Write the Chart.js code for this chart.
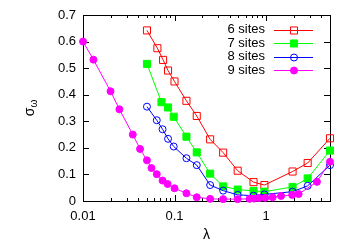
<!DOCTYPE html>
<html>
<head>
<meta charset="utf-8">
<title>sigma omega vs lambda</title>
<style>
html,body{margin:0;padding:0;background:#fff;}
#wrap{width:350px;height:245px;}
</style>
</head>
<body>
<div id="wrap"><canvas id="chart" width="350" height="245"></canvas></div>
<script src="https://cdn.jsdelivr.net/npm/chart.js"></script>
<script>
// values
const lambda6 = [0.05,0.065,0.075,0.085,0.1,0.135,0.175,0.245,0.34,0.49,0.73,0.96,1.95,2.85,5];
const sigma6  = [0.642,0.575,0.531,0.491,0.45,0.377,0.32,0.232,0.182,0.114,0.071,0.06,0.111,0.143,0.236];
const lambda7 = [0.05,0.072,0.085,0.098,0.135,0.175,0.245,0.34,0.49,0.73,0.96,1.95,2.85,5];
const sigma7  = [0.516,0.372,0.352,0.317,0.242,0.183,0.103,0.055,0.043,0.038,0.035,0.053,0.085,0.19];
const lambda8 = [0.05,0.064,0.074,0.085,0.098,0.135,0.175,0.245,0.34,0.49,0.73,0.96,1.95,2.85,5];
const sigma8  = [0.355,0.304,0.27,0.234,0.205,0.161,0.135,0.06,0.039,0.023,0.02,0.025,0.035,0.057,0.135];
const lambda9 = [0.01,0.013,0.02,0.025,0.035,0.042,0.05,0.056,0.064,0.074,0.084,0.1,0.135,0.175,0.245,0.34,0.49,0.66,0.74,0.84,0.98,1.18,1.46,1.93,2.27,3.6,5];
const sigma9  = [0.6,0.532,0.413,0.345,0.25,0.196,0.153,0.124,0.101,0.077,0.064,0.048,0.029,0.014,0.008,0.007,0.007,0.008,0.009,0.011,0.012,0.014,0.019,0.023,0.026,0.072,0.148];

const seriesNames = ['6 sites','7 sites','8 sites','9 sites'];
const xTickVals = [0.01, 0.1, 1];
const xTickLabels = ['0.01','0.1','1'];
const yTickVals = [0,0.1,0.2,0.3,0.4,0.5,0.6,0.7];
const yTickLabels = ['0','0.1','0.2','0.3','0.4','0.5','0.6','0.7'];

const FONT = "'Liberation Sans', Arial, sans-serif";

function series(xs, ys, label, color, style, filled, r, order){
  return {
    label,
    data: xs.map((v,i)=>({x:v, y:ys[i]})),
    borderColor: color,
    backgroundColor: color,
    borderWidth: 1,
    pointStyle: style,
    pointRadius: r,
    pointBorderWidth: 1,
    pointBorderColor: color,
    pointBackgroundColor: filled ? color : 'rgba(0,0,0,0)',
    fill: false,
    tension: 0,
    clip: false,
    order
  };
}

/* ---------- frame, ticks, labels, legend ---------- */
const frame = {
  id: 'frame',
  beforeDatasetsDraw(chart){
    const {ctx, chartArea:a, scales:{x, y}} = chart;
    ctx.save();
    ctx.strokeStyle = '#000';
    ctx.lineWidth = 1;
    ctx.beginPath();
    for(let d=-2; d<=0; d++){
      for(let m=1; m<=9; m++){
        const v = m*Math.pow(10,d);
        if(v > x.max + 1e-9) continue;
        const px = Math.round(x.getPixelForValue(v)) + 0.5;
        const len = m===1 ? 6 : 3;
        ctx.moveTo(px, a.bottom); ctx.lineTo(px, a.bottom-len);
        ctx.moveTo(px, a.top); ctx.lineTo(px, a.top+len);
      }
    }
    yTickVals.forEach(v=>{
      const py = Math.round(y.getPixelForValue(v)) + 0.5;
      ctx.moveTo(a.left, py); ctx.lineTo(a.left+6, py);
      ctx.moveTo(a.right, py); ctx.lineTo(a.right-6, py);
    });
    ctx.stroke();
    ctx.strokeRect(a.left+0.5, a.top+0.5, a.right-a.left, a.bottom-a.top);
    ctx.restore();
  },
  afterDraw(chart){
    const {ctx, chartArea:a, scales:{x, y}} = chart;
    ctx.save();
    ctx.fillStyle = '#000';
    ctx.font = '13px ' + FONT;
    // y tick labels
    ctx.textAlign = 'right';
    ctx.textBaseline = 'middle';
    yTickVals.forEach((v,i)=>ctx.fillText(yTickLabels[i], a.left-7, y.getPixelForValue(v)));
    // x tick labels
    ctx.textAlign = 'center';
    xTickVals.forEach((v,i)=>ctx.fillText(xTickLabels[i], x.getPixelForValue(v), a.bottom+15));
    // x title
    ctx.font = '14px ' + FONT;
    ctx.fillText('λ', (a.left+a.right)/2, a.bottom+34);
    // y title, sigma with omega subscript, rotated
    ctx.translate(30, (a.top+a.bottom)/2);
    ctx.rotate(-Math.PI/2);
    ctx.textAlign = 'left';
    ctx.textBaseline = 'alphabetic';
    ctx.font = '14px ' + FONT;
    const w1 = ctx.measureText('σ').width;
    ctx.font = '10px ' + FONT;
    const w2 = ctx.measureText('ω').width;
    const x0 = -(w1+w2)/2;
    ctx.font = '14px ' + FONT;
    ctx.fillText('σ', x0, 4);
    ctx.font = '10px ' + FONT;
    ctx.fillText('ω', x0+w1, 7);
    ctx.restore();

    // legend
    ctx.save();
    ctx.font = '13px ' + FONT;
    ctx.textAlign = 'right';
    ctx.textBaseline = 'middle';
    chart.data.datasets.forEach((ds,i)=>{
      const ry = a.top + 14.5 + i*13.6;
      ctx.fillStyle = '#000';
      ctx.fillText(ds.label, a.right-65, ry);
      ctx.strokeStyle = ds.borderColor;
      ctx.lineWidth = 1;
      ctx.beginPath();
      ctx.moveTo(a.right-56, Math.round(ry)+0.5);
      ctx.lineTo(a.right-17, Math.round(ry)+0.5);
      ctx.stroke();
      ctx.fillStyle = ds.pointBackgroundColor;
      ctx.strokeStyle = ds.pointBorderColor;
      Chart.helpers.drawPoint(ctx, {pointStyle: ds.pointStyle, radius: ds.pointRadius, borderWidth: 1, rotation: 0}, a.right-36, Math.round(ry)+0.5);
    });
    ctx.restore();
  }
};

new Chart(document.getElementById('chart').getContext('2d'), {
  type: 'line',
  data: {
    datasets: [
      series(lambda6, sigma6, seriesNames[0], '#ff0000', 'rect', false, 5, 3),
      series(lambda7, sigma7, seriesNames[1], '#00ff00', 'rect', true, 5, 2),
      series(lambda8, sigma8, seriesNames[2], '#0000ff', 'circle', false, 3.5, 1),
      series(lambda9, sigma9, seriesNames[3], '#ff00ff', 'circle', true, 3.5, 0)
    ]
  },
  options: {
    responsive: false,
    animation: false,
    events: [],
    layout: {padding: {left: 83, right: 20, top: 15, bottom: 44}},
    plugins: {legend: {display: false}, tooltip: {enabled: false}},
    scales: {
      x: {type: 'logarithmic', min: 0.01, max: 5, display: false},
      y: {type: 'linear', min: 0, max: 0.7, display: false}
    }
  },
  plugins: [frame]
});
</script>
</body>
</html>
